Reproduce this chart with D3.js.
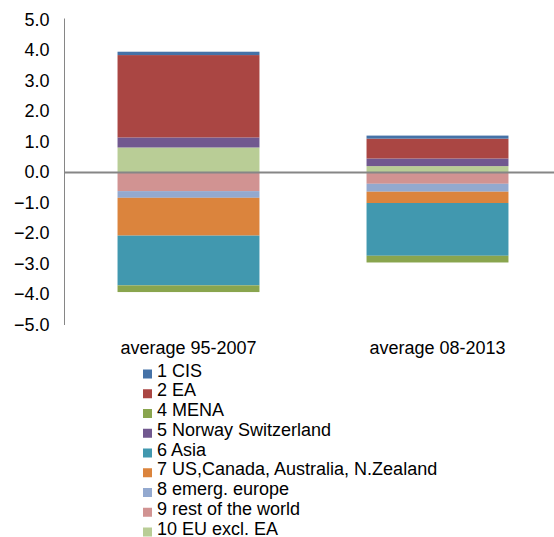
<!DOCTYPE html>
<html><head><meta charset="utf-8">
<script src="https://cdn.jsdelivr.net/npm/d3@7"></script>
<style>
html,body{margin:0;padding:0;background:#fff;}
svg{display:block;font-family:"Liberation Sans",Arial,sans-serif;}
</style></head>
<body>
<svg id="chart" width="554" height="537"></svg>
<script>
const categories = ["average 95-2007", "average 08-2013"];
const seriesNames = ["1 CIS", "2 EA", "4 MENA", "5 Norway Switzerland", "6 Asia",
  "7 US,Canada, Australia, N.Zealand", "8 emerg. europe", "9 rest of the world", "10 EU excl. EA"];
const seriesColors = ["#4572A7", "#AA4643", "#89A54E", "#71588F", "#4198AF",
  "#DB843D", "#93A9CF", "#D19392", "#B9CD96"];
// values per series: [average 95-2007, average 08-2013]
const cis = [0.11, 0.10];
const ea = [2.70, 0.65];
const mena = [-0.22, -0.22];
const norwaySwitzerland = [0.33, 0.25];
const asia = [-1.63, -1.73];
const usCanadaAusNz = [-1.24, -0.37];
const emergEurope = [-0.22, -0.26];
const restOfWorld = [-0.61, -0.37];
const euExclEA = [0.82, 0.21];
const yTicks = [5, 4, 3, 2, 1, 0, -1, -2, -3, -4, -5];

const seriesValues = [cis, ea, mena, norwaySwitzerland, asia, usCanadaAusNz, emergEurope, restOfWorld, euExclEA];

const svg = d3.select("#chart");
const fs = 18;

const x = d3.scaleBand().domain(categories).range([64, 562]).paddingInner(0.43).paddingOuter(0.215);
const y = d3.scaleLinear().domain([-5, 5]).range([325, 20]);

const rows = categories.map((c, i) => {
  const r = {cat: c};
  seriesNames.forEach((s, j) => r[s] = seriesValues[j][i]);
  return r;
});
// Excel draws series stacked in reverse order
const keys = seriesNames.slice().reverse();
const stack = d3.stack().keys(keys).offset(d3.stackOffsetDiverging)(rows);
const color = d3.scaleOrdinal().domain(seriesNames).range(seriesColors);

const g = svg.append("g");
stack.forEach(layer => {
  g.selectAll(null).data(layer).enter().append("rect")
    .attr("x", d => x(d.data.cat))
    .attr("width", x.bandwidth())
    .attr("y", d => y(Math.max(d[0], d[1])))
    .attr("height", d => Math.abs(y(d[0]) - y(d[1])))
    .attr("fill", color(layer.key));
});

// axis line
const yAxis = d3.axisLeft(y).tickValues(yTicks).tickSize(0).tickPadding(15).tickFormat(d3.format(".1f"));
const ag = svg.append("g").attr("transform", "translate(64.5,0)").call(yAxis);
ag.select(".domain").attr("stroke", "#868686").attr("stroke-width", 1).attr("d", `M0,${y(5)-1.5}V${y(-5)}`);
ag.selectAll(".tick text").attr("font-size", fs).attr("fill", "#000")
  .attr("font-family", "Liberation Sans, Arial, sans-serif").attr("dy", "0.3em");

// zero line
svg.append("line").attr("x1", 64).attr("x2", 554).attr("y1", y(0)).attr("y2", y(0))
  .attr("stroke", "#868686").attr("stroke-width", 2);

// category labels
const xAxis = d3.axisBottom(x).tickSize(0).tickPadding(0);
const xg = svg.append("g").attr("transform", `translate(0,${y(-5)})`).call(xAxis);
xg.select(".domain").remove();
xg.selectAll(".tick text").attr("font-size", fs).attr("fill", "#000")
  .attr("font-family", "Liberation Sans, Arial, sans-serif").attr("y", 0).attr("dy", "1.6em");

// legend
const lg = svg.append("g").attr("transform", "translate(143,376.5)");
seriesNames.forEach((s, i) => {
  const row = lg.append("g").attr("transform", `translate(0,${i * 19.75})`);
  row.append("rect").attr("y", -7).attr("width", 9).attr("height", 9).attr("fill", color(s));
  row.append("text").attr("x", 14).attr("y", 0)
    .attr("font-size", fs).attr("fill", "#000").text(s);
});
</script>
</body></html>
